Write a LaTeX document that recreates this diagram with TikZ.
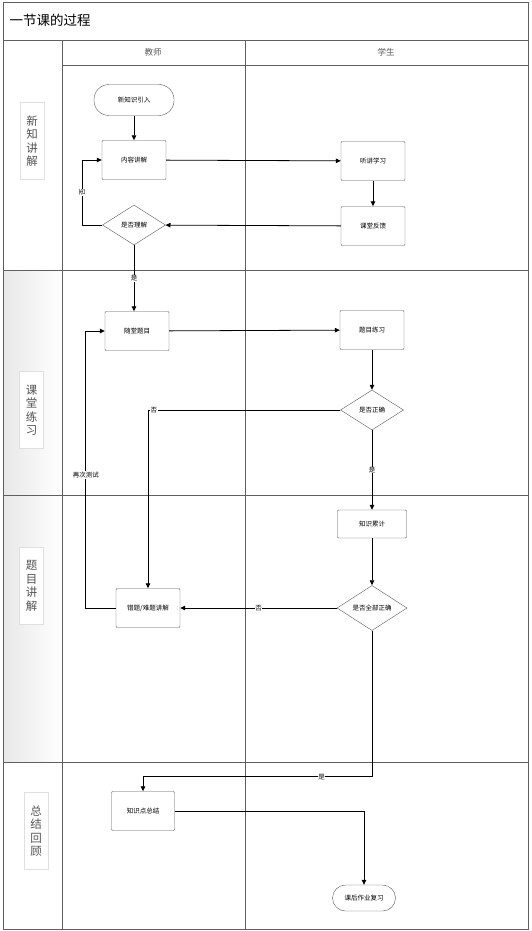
\documentclass[tikz,border=0pt]{standalone}
\usepackage{fontspec}
\newfontfamily\cjk{Noto Sans CJK SC}
\usetikzlibrary{shapes.geometric, arrows.meta}

\begin{document}
\begin{tikzpicture}[x=1pt, y=-1pt,
  lane/.style={draw=gray!75!black, line width=0.9pt},
  stepbox/.style={rectangle, rounded corners=1pt, draw=gray!70!black, fill=white,
              minimum width=64pt, minimum height=39pt, inner sep=1pt,
              font=\cjk\fontsize{6.5}{7}\selectfont},
  decision/.style={diamond, draw=gray!70!black, fill=white, inner sep=0pt,
              minimum width=63pt, minimum height=40pt,
              font=\cjk\fontsize{6.5}{7}\selectfont},
  terminal/.style={rectangle, rounded corners=13pt, draw=gray!70!black, fill=white,
              inner sep=1pt, font=\cjk\fontsize{6.5}{7}\selectfont},
  bandlabel/.style={rectangle, draw=gray!25, fill=white, align=center,
              minimum width=24pt, minimum height=77pt, text=gray!65!black,
              font=\cjk\fontsize{11.5}{13.5}\selectfont},
  arrow/.style={-{Triangle[length=5pt, width=4.5pt]}, line width=0.8pt, black},
  tag/.style={fill=white, inner sep=0.6pt, font=\cjk\fontsize{6.5}{7}\selectfont}
]
\useasboundingbox (0,0) rectangle (531,931);

% shaded side cells
\shade[left color=gray!18, right color=white] (3,270) rectangle (62,762);

% lanes
\draw[lane] (3,2) rectangle (528,929);
\draw[lane] (3,40) -- (528,40);
\draw[lane] (62,65) -- (528,65);
\draw[lane] (62,40) -- (62,929);
\draw[lane] (245,40) -- (245,929);
\foreach \y in {270, 495, 762}
  \draw[lane] (3,\y) -- (528,\y);

\node[anchor=west, font=\cjk\fontsize{13.5}{14}\selectfont] (title) at (6,20) {一节课的过程};
\node[font=\cjk\fontsize{8.5}{9}\selectfont, text=gray!70!black] (teacher) at (153,52) {教师};
\node[font=\cjk\fontsize{8.5}{9}\selectfont, text=gray!70!black] (student) at (386,52) {学生};

\node[bandlabel] (band1) at (32,141) {新\\知\\讲\\解};
\node[bandlabel] (band2) at (31.5,410) {课\\堂\\练\\习};
\node[bandlabel] (band3) at (31.5,586) {题\\目\\讲\\解};
\node[bandlabel] (band4) at (36,831) {总\\结\\回\\顾};

% steps
\node[terminal, rounded corners=15pt, minimum width=80pt, minimum height=31pt] (intro) at (134,100) {新知识引入};
\node[stepbox] (explain) at (134,160) {内容讲解};
\node[decision] (understand) at (134,225) {是否理解};
\node[stepbox] (listen) at (373,161) {听讲学习};
\node[stepbox] (feedback) at (373,226) {课堂反馈};

\node[stepbox] (quiz) at (137,331) {随堂题目};
\node[stepbox] (practice) at (372,330) {题目练习};
\node[decision] (correct) at (372,410) {是否正确};

\node[stepbox, minimum width=69pt, minimum height=28pt] (accum) at (372,524) {知识累计};
\node[decision, minimum width=70pt, minimum height=37pt] (allcorrect) at (372,608) {是否全部正确};
\node[stepbox] (review) at (148,608) {错题/难题讲解};

\node[stepbox, minimum width=63pt] (summary) at (143,811) {知识点总结};
\node[terminal, minimum width=63pt, minimum height=26pt] (homework) at (364,898) {课后作业复习};

% connectors
\draw[arrow] (intro) -- (explain);
\draw[arrow] (explain) -- (listen);
\draw[arrow] (listen) -- (feedback);
\draw[arrow] (feedback) -- (understand);
\draw[arrow] (understand.west) -- ++(-20,0) |- node[tag, pos=0.25, rotate=90] {否} (explain.west);
\draw[arrow] (understand.south) -- node[tag, pos=0.5] {是} (understand.south |- quiz.north);
\draw[arrow] (quiz) -- (practice);
\draw[arrow] (practice) -- (correct);
\draw[arrow] (correct.west) -| node[tag, pos=0.485] {否} (review.north);
\draw[arrow] (correct) -- node[tag] {是} (accum);
\draw[arrow] (accum) -- (allcorrect);
\draw[arrow] (allcorrect) -- node[tag] {否} (review);
\draw[arrow] (review.west) -- ++(-30,0) |- node[tag, pos=0.24] {再次测试} (quiz.west);
\draw[arrow] (allcorrect.south) -- ++(0,146) -| node[tag, pos=0.11] {是} (summary.north);
\draw[arrow] (summary.east) -| (homework.north);

\end{tikzpicture}
\end{document}
